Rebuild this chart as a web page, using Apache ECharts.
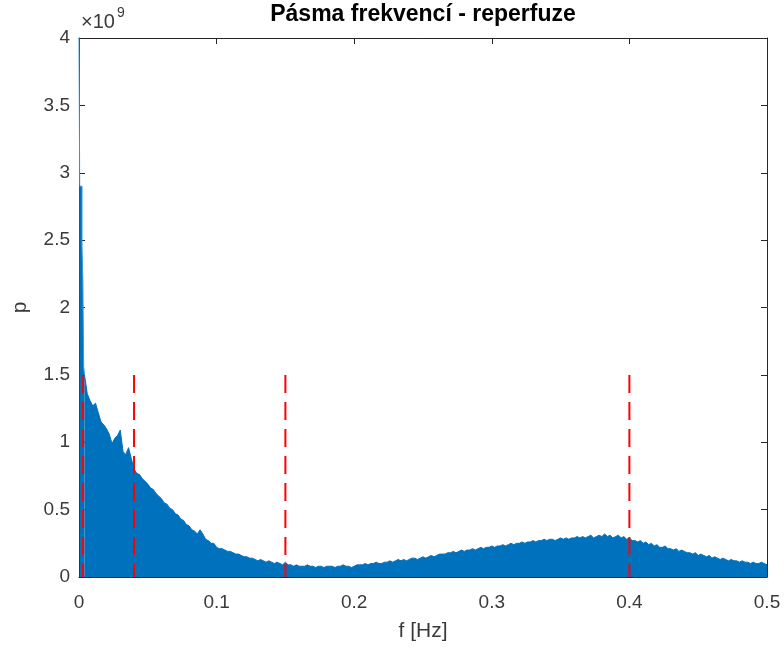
<!DOCTYPE html>
<html>
<head>
<meta charset="utf-8">
<script src="https://cdn.jsdelivr.net/npm/echarts@6/dist/echarts.min.js"></script>
<style>
  html, body { margin: 0; padding: 0; background: #fff; }
  #chart { width: 784px; height: 648px; }
</style>
</head>
<body>
<div id="chart"></div>
<script>
// spektrum - hodnoty v jednotkach 1e9
const headFreq = [0, 0.0005, 0.0022, 0.0028, 0.0034, 0.004];
const headPower = [4.0, 2.9, 2.45, 2.2, 1.56, 1.50];

const freqStart = 0.004;
const freqStep = 0.002;
const power = [
  1.50, 1.36, 1.31, 1.27, 1.29, 1.22, 1.15, 1.13, 1.10, 1.06,
  0.99, 1.03, 1.05, 1.09, 0.93, 0.91, 0.96, 0.88, 0.80, 0.77,
  0.76, 0.73, 0.71, 0.69, 0.66, 0.65, 0.62, 0.60, 0.58, 0.55,
  0.54, 0.51, 0.50, 0.47, 0.46, 0.43, 0.42, 0.39, 0.38, 0.35,
  0.34, 0.32, 0.35, 0.32, 0.28, 0.27, 0.25, 0.25, 0.22, 0.21,
  0.21, 0.20, 0.19, 0.19, 0.18, 0.17, 0.17, 0.16, 0.15, 0.15,
  0.14, 0.14, 0.13, 0.12, 0.13, 0.12, 0.11, 0.12, 0.11, 0.10,
  0.11, 0.10, 0.09, 0.11, 0.09, 0.09, 0.08, 0.09, 0.08, 0.08,
  0.08, 0.09, 0.08, 0.08, 0.07, 0.08, 0.08, 0.07, 0.08, 0.08,
  0.08, 0.07, 0.08, 0.08, 0.09, 0.08, 0.08, 0.07, 0.08, 0.09,
  0.09, 0.09, 0.10, 0.09, 0.10, 0.10, 0.11, 0.10, 0.10, 0.11,
  0.11, 0.12, 0.11, 0.12, 0.13, 0.12, 0.13, 0.12, 0.13, 0.14,
  0.14, 0.13, 0.14, 0.15, 0.14, 0.15, 0.16, 0.15, 0.16, 0.17,
  0.17, 0.17, 0.18, 0.18, 0.19, 0.18, 0.19, 0.20, 0.19, 0.20,
  0.20, 0.21, 0.20, 0.21, 0.22, 0.21, 0.22, 0.22, 0.23, 0.22,
  0.23, 0.23, 0.24, 0.23, 0.24, 0.25, 0.24, 0.25, 0.25, 0.26,
  0.25, 0.26, 0.26, 0.27, 0.26, 0.27, 0.27, 0.28, 0.27, 0.28,
  0.28, 0.27, 0.28, 0.29, 0.28, 0.29, 0.28, 0.29, 0.29, 0.30,
  0.29, 0.30, 0.29, 0.30, 0.31, 0.29, 0.30, 0.31, 0.30, 0.32,
  0.30, 0.31, 0.29, 0.30, 0.31, 0.29, 0.30, 0.28, 0.29, 0.27,
  0.27, 0.26, 0.27, 0.25, 0.26, 0.24, 0.25, 0.23, 0.24, 0.22,
  0.22, 0.23, 0.21, 0.21, 0.20, 0.21, 0.19, 0.20, 0.19, 0.18,
  0.18, 0.17, 0.18, 0.16, 0.17, 0.16, 0.15, 0.16, 0.14, 0.15,
  0.14, 0.13, 0.14, 0.13, 0.12, 0.13, 0.12, 0.12, 0.11, 0.12,
  0.11, 0.11, 0.10, 0.11, 0.10, 0.10, 0.11, 0.10, 0.09
];

// hranice pasem (VLF / LF / HF)
const bandEdges = [0.003, 0.04, 0.15, 0.4];
const bandTop = 1.5;

const xTicks = [0, 0.1, 0.2, 0.3, 0.4, 0.5];
const yTicks = [0, 0.5, 1, 1.5, 2, 2.5, 3, 3.5, 4];

const headData = headFreq.map((f, i) => [f, headPower[i]]);
const mainData = power.map((p, i) => [+(freqStart + i * freqStep).toFixed(4), p]);

const axisColor = '#262626';
const labelColor = '#3a3a3a';
const font = 'Liberation Sans, Arial, sans-serif';
const blue = '#0072BD';

const chart = echarts.init(document.getElementById('chart'));

const baseX = {
  type: 'value',
  min: xTicks[0],
  max: xTicks[xTicks.length - 1],
  interval: 0.1,
  axisLine: { show: true, onZero: false, lineStyle: { color: axisColor, width: 1 } },
  axisTick: { show: true, inside: true, length: 6, lineStyle: { color: axisColor } },
  splitLine: { show: false }
};
const baseY = {
  type: 'value',
  min: yTicks[0],
  max: yTicks[yTicks.length - 1],
  interval: 0.5,
  axisLine: { show: true, onZero: false, lineStyle: { color: axisColor, width: 1 } },
  axisTick: { show: true, inside: true, length: 6, lineStyle: { color: axisColor } },
  splitLine: { show: false }
};

const option = {
  animation: false,
  backgroundColor: '#fff',
  textStyle: { fontFamily: font },
  grid: { left: 79, right: 17, top: 38, bottom: 71, containLabel: false, outerBoundsMode: 'none' },
  xAxis: [
    Object.assign({}, baseX, {
      position: 'bottom',
      axisLabel: { color: labelColor, fontSize: 19, margin: 16 },
      name: 'f [Hz]',
      nameLocation: 'middle',
      nameGap: 44,
      nameTextStyle: { color: labelColor, fontSize: 21 }
    }),
    Object.assign({}, baseX, { position: 'top', axisLabel: { show: false } })
  ],
  yAxis: [
    Object.assign({}, baseY, {
      position: 'left',
      axisLabel: { color: labelColor, fontSize: 19, margin: 9 },
      name: 'p',
      nameLocation: 'middle',
      nameGap: 48,
      nameTextStyle: { color: labelColor, fontSize: 21 }
    }),
    Object.assign({}, baseY, { position: 'right', axisLabel: { show: false } })
  ],
  graphic: [
    {
      type: 'text', x: 423, y: 3,
      style: { text: 'Pásma frekvencí - reperfuze', font: 'bold 23px ' + font, fill: '#000', textAlign: 'center' }
    },
    {
      type: 'text', x: 81, y: 12,
      style: { text: '×10', font: '20px ' + font, fill: labelColor }
    },
    {
      type: 'text', x: 117, y: 6,
      style: { text: '9', font: '14px ' + font, fill: labelColor }
    }
  ],
  series: [
    {
      type: 'line',
      data: headData,
      step: 'end',
      symbol: 'none',
      lineStyle: { color: '#3d95d6', width: 1 },
      areaStyle: { color: blue, opacity: 1 }
    },
    {
      type: 'line',
      data: mainData,
      symbol: 'none',
      lineStyle: { color: blue, width: 1 },
      areaStyle: { color: blue, opacity: 1 }
    }
  ].concat(bandEdges.map(f => ({
    type: 'line',
    // kreslime shora dolu, at carkovani zacina nahore
    data: [[f, bandTop], [f, 0]],
    symbol: 'none',
    lineStyle: { color: '#FF0000', width: 2, type: [18, 9] },
    z: 5
  })))
};

chart.setOption(option);
window.addEventListener('resize', () => chart.resize());
</script>
</body>
</html>
